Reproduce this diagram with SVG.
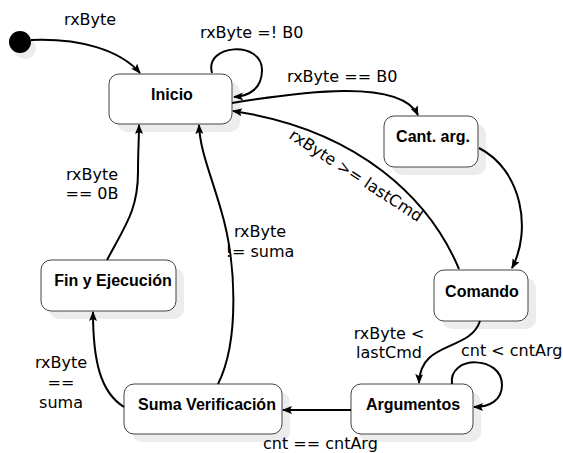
<svg xmlns="http://www.w3.org/2000/svg" width="563" height="453" viewBox="0 0 563 453">
  <style>
    .shadow { fill: #ececec; stroke: none; }
    .box { fill: #ffffff; stroke: #444444; stroke-width: 1; }
    .name { font-family: "Liberation Sans", Arial, sans-serif; font-weight: bold; font-size: 16px; fill: #000; text-anchor: middle; }
    .lbl { font-family: "DejaVu Sans", sans-serif; font-size: 16px; fill: #000; }
    .mid { text-anchor: middle; }
    .edge { fill: none; stroke: #000; stroke-width: 2; marker-end: url(#arrow); }
  </style>
  <defs>
    <marker id="arrow" viewBox="0 0 10 8" refX="9" refY="4" markerWidth="5" markerHeight="4" orient="auto" markerUnits="strokeWidth">
      <path d="M0,0 L10,4 L0,8 L2,4 Z" fill="#000"/>
    </marker>
  </defs>
  <rect width="563" height="453" fill="#ffffff"/>

  <g id="start">
    <circle cx="25" cy="48" r="11" class="shadow"/>
    <circle cx="20" cy="42" r="11" fill="#000"/>
  </g>

  <g id="inicio">
    <rect x="117" y="82" width="123" height="50" rx="10" class="shadow"/>
    <rect x="109" y="74" width="123" height="50" rx="10" class="box"/>
    <text x="172" y="100" class="name">Inicio</text>
  </g>

  <g id="cant-arg">
    <rect x="392" y="124" width="94" height="51" rx="10" class="shadow"/>
    <rect x="384" y="116" width="94" height="51" rx="10" class="box"/>
    <text x="433" y="142" class="name">Cant. arg.</text>
  </g>

  <g id="comando">
    <rect x="442" y="278" width="94" height="51" rx="10" class="shadow"/>
    <rect x="434" y="270" width="94" height="51" rx="10" class="box"/>
    <text x="482" y="297" class="name">Comando</text>
  </g>

  <g id="argumentos">
    <rect x="359" y="392" width="122" height="50" rx="10" class="shadow"/>
    <rect x="351" y="384" width="122" height="50" rx="10" class="box"/>
    <text x="413" y="410" class="name">Argumentos</text>
  </g>

  <g id="suma-verificacion">
    <rect x="132" y="392" width="158" height="50" rx="10" class="shadow"/>
    <rect x="124" y="384" width="158" height="50" rx="10" class="box"/>
    <text x="207" y="410" class="name">Suma Verificación</text>
  </g>

  <g id="fin-ejecucion">
    <rect x="49" y="268" width="135" height="51" rx="10" class="shadow"/>
    <rect x="41" y="260" width="135" height="51" rx="10" class="box"/>
    <text x="113" y="286" class="name">Fin y Ejecución</text>
  </g>

  <g id="connectors">
    <path class="edge" d="M31,40 C80,38 120,50 140,73"/>
    <path class="edge" d="M212,73 C204,44 262,40 262,70 C262,88 250,96 234,97"/>
    <path class="edge" d="M232,103 C300,92 400,78 418,115"/>
    <path class="edge" d="M459,269 C430,200 360,130 233,111"/>
    <path class="edge" d="M479,148 C522,170 532,230 512,268"/>
    <path class="edge" d="M480,321 C470,352 420,340 419,383"/>
    <path class="edge" d="M452,384 C448,355 502,355 502,385 C502,400 490,407 474,407"/>
    <path class="edge" d="M351,410 L283,410"/>
    <path class="edge" d="M124,407 C100,392 93,360 93,312"/>
    <path class="edge" d="M218,384 C240,340 236,260 221,210 C210,172 200,150 199,125"/>
    <path class="edge" d="M107,260 C125,226 138,210 138,172 C138,150 139,140 139,125"/>
  </g>

  <g id="labels">
    <text x="64" y="25" class="lbl">rxByte</text>
    <text x="200" y="38" class="lbl">rxByte =! B0</text>
    <text x="287" y="82" class="lbl">rxByte == B0</text>
    <text transform="translate(353,180) rotate(33)" class="lbl mid">rxByte &gt;= lastCmd</text>
    <text x="92" y="180" class="lbl mid">rxByte</text>
    <text x="92" y="199" class="lbl mid">== 0B</text>
    <text x="260" y="237" class="lbl mid">rxByte</text>
    <text x="260" y="257" class="lbl mid">!= suma</text>
    <text x="61" y="368" class="lbl mid">rxByte</text>
    <text x="61" y="388" class="lbl mid">==</text>
    <text x="61" y="408" class="lbl mid">suma</text>
    <text x="389" y="339" class="lbl mid">rxByte &lt;</text>
    <text x="389" y="358" class="lbl mid">lastCmd</text>
    <text x="461" y="356" class="lbl">cnt &lt; cntArg</text>
    <text x="263" y="449" class="lbl">cnt == cntArg</text>
  </g>
</svg>
